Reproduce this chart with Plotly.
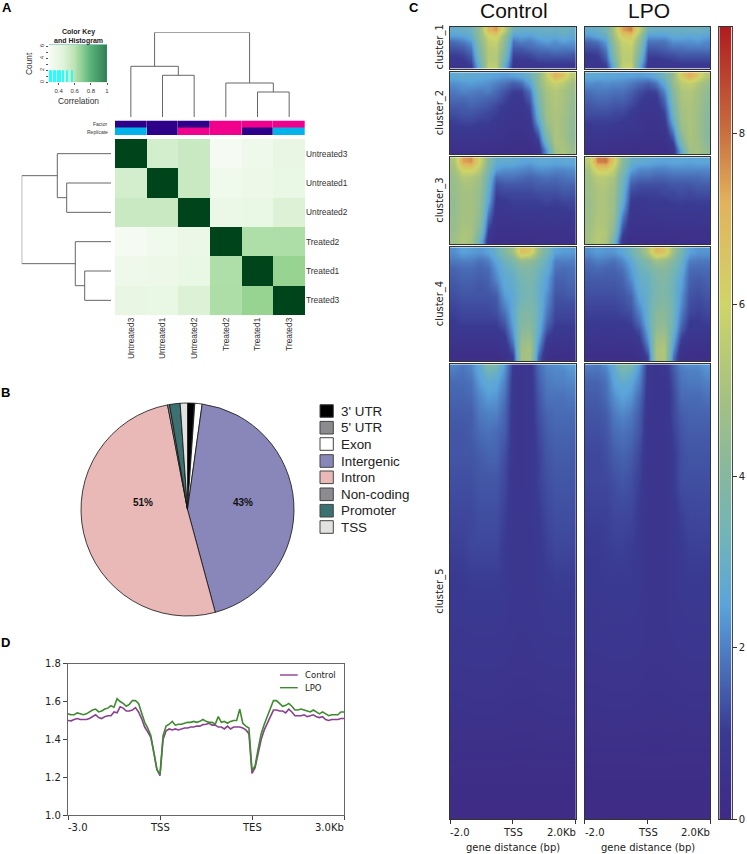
import plotly.graph_objects as go

W, H = 747, 854
SANS = "Liberation Sans"
DV = "DejaVu Sans"

# ---------- panel A data ----------
samples_cols = ["Untreated3", "Untreated1", "Untreated2", "Treated2", "Treated1", "Treated3"]
samples_rows = ["Untreated3", "Untreated1", "Untreated2", "Treated2", "Treated1", "Treated3"]
correlation = [
    [1.00, 0.416, 0.449, 0.28, 0.314, 0.343],
    [0.416, 1.00, 0.45, 0.31, 0.32, 0.34],
    [0.449, 0.45, 1.00, 0.33, 0.34, 0.39],
    [0.28, 0.31, 0.33, 1.00, 0.51, 0.515],
    [0.314, 0.32, 0.34, 0.51, 1.00, 0.565],
    [0.343, 0.34, 0.39, 0.515, 0.565, 1.00],
]
annotation_rows = ["Factor", "Replicate"]
annotation_codes = [[0, 0, 0, 1, 1, 1], [2, 0, 1, 1, 0, 2]]
key_levels = [0.28, 0.35, 0.42, 0.49, 0.56, 0.63, 0.70, 0.77, 0.84, 0.91, 1.0]
hist_values = [0.292, 0.31, 0.342, 0.358, 0.396, 0.417, 0.458, 0.50, 0.562]
hist_counts = [2, 2, 2, 2, 2, 2, 2, 2, 2]
# dendrogram merges: left leaf pos, right leaf pos, height, child heights
top_merges = [
    (1.5, 2.5, 41.7, 0, 0), (0.5, 2.0, 50.7, 0, 41.7),
    (4.5, 5.5, 25.0, 0, 0), (3.5, 5.0, 34.0, 0, 25.0),
    (1.25, 4.25, 84.7, 50.7, 34.0),
]
left_merges = [
    (1.5, 2.5, 44.3, 0, 0), (0.5, 2.0, 53.7, 0, 44.3),
    (4.5, 5.5, 26.3, 0, 0), (3.5, 5.0, 35.7, 0, 26.3),
    (1.25, 4.25, 89.3, 53.7, 35.7),
]

# ---------- panel B data ----------
pie_labels = ["3' UTR", "5' UTR", "Exon", "Intergenic", "Intron", "Non-coding", "Promoter", "TSS"]
pie_values = [1.0, 0.1, 1.1, 43.6, 51.2, 0.3, 1.6, 1.1]
pie_colors = ["#000000", "#8c8c90", "#ffffff", "#8987b9", "#e9b9b8", "#8c8c90", "#3d7070", "#e2e2e0"]

# ---------- panel C data (rows top to bottom, columns -2 kb to +2 kb) ----------
ctrl_c1 = [
    [2.9,3.0,3.2,4.5,7.0,7.5,5.5,3.2,3.0,3.0,3.0,3.1,3.0,3.2,3.0],
    [2.4,2.5,2.9,4.4,5.9,6.3,4.6,2.4,2.5,2.4,2.7,2.8,2.7,2.9,2.7],
    [1.7,1.9,2.3,4.1,5.6,5.8,4.2,1.8,2.0,1.9,2.2,2.4,2.2,2.4,2.3],
    [1.4,1.5,1.9,3.9,5.4,5.5,4.0,1.5,1.5,1.7,1.8,1.9,2.0,1.9,2.0],
    [1.1,1.2,1.6,3.7,5.3,5.4,3.7,1.2,1.2,1.3,1.5,1.5,1.6,1.6,1.5],
    [0.9,1.0,1.3,3.4,5.3,5.3,3.3,1.0,1.0,1.0,1.2,1.2,1.2,1.2,1.2],
    [0.7,0.7,1.0,3.0,5.5,5.6,2.8,0.8,0.7,0.8,0.8,0.9,0.9,0.9,0.9],
]
ctrl_c2 = [
    [2.7,2.8,2.7,2.7,2.6,2.5,2.4,2.5,2.7,3.1,4.2,5.7,7.2,6.6,5.5],
    [2.2,2.3,2.4,2.3,2.2,2.0,1.8,1.5,1.7,2.5,4.2,5.3,5.8,5.4,4.8],
    [1.9,2.1,2.0,1.9,2.0,1.7,1.4,1.1,1.1,1.8,3.8,5.0,5.3,5.0,4.6],
    [1.7,1.7,1.8,1.7,1.6,1.5,1.2,0.9,0.9,1.5,3.6,4.9,5.2,5.0,4.5],
    [1.5,1.5,1.6,1.5,1.4,1.2,1.0,0.8,0.8,1.2,3.3,4.8,5.2,4.9,4.4],
    [1.3,1.4,1.4,1.3,1.2,1.1,0.9,0.7,0.7,1.0,3.0,4.8,5.1,4.9,4.4],
    [1.1,1.2,1.2,1.1,1.1,0.9,0.8,0.7,0.7,0.8,2.6,4.6,5.1,4.8,4.3],
    [1.0,1.0,1.0,0.9,0.9,0.8,0.7,0.6,0.6,0.7,2.0,4.3,5.1,4.8,4.3],
    [0.8,0.8,0.8,0.8,0.7,0.7,0.6,0.5,0.5,0.6,1.4,3.8,5.1,4.8,4.2],
    [0.6,0.6,0.6,0.6,0.5,0.5,0.5,0.4,0.4,0.4,0.9,3.2,5.1,5.0,4.4],
    [0.4,0.4,0.4,0.4,0.4,0.4,0.3,0.3,0.3,0.3,0.5,2.3,4.8,5.1,4.6],
]
ctrl_c3 = [
    [5.1,7.4,7.6,6.0,4.0,2.9,2.8,2.8,2.6,2.5,2.7,2.7,2.6,2.7,2.7],
    [4.8,6.1,6.2,5.4,3.6,2.4,2.2,2.2,2.1,2.0,2.2,2.2,2.1,2.1,2.2],
    [4.6,5.3,5.2,4.8,3.2,1.7,1.8,1.8,1.7,1.6,1.7,1.8,1.7,1.8,1.9],
    [4.5,5.0,5.0,4.6,3.0,1.3,1.4,1.4,1.4,1.4,1.5,1.5,1.5,1.6,1.6],
    [4.5,4.9,4.9,4.5,2.8,1.1,1.2,1.2,1.2,1.2,1.3,1.3,1.3,1.4,1.4],
    [4.4,4.9,4.9,4.4,2.6,0.9,1.0,1.1,1.1,1.1,1.1,1.2,1.1,1.2,1.2],
    [4.4,4.9,4.9,4.4,2.2,0.8,0.9,1.0,1.0,1.0,1.0,1.0,1.0,1.0,1.1],
    [4.5,4.9,4.9,4.3,1.8,0.7,0.7,0.8,0.8,0.8,0.8,0.9,0.8,0.9,0.9],
    [4.5,5.0,4.9,4.1,1.4,0.6,0.6,0.6,0.6,0.7,0.7,0.7,0.7,0.7,0.7],
    [4.6,5.1,5.0,3.8,1.0,0.5,0.5,0.5,0.5,0.5,0.5,0.5,0.5,0.5,0.6],
    [4.7,5.2,4.9,3.2,0.6,0.3,0.3,0.3,0.3,0.3,0.4,0.4,0.4,0.4,0.4],
]
ctrl_c4 = [
    [2.2,2.5,2.4,2.3,2.5,3.0,3.9,4.8,6.8,6.5,4.6,3.5,2.5,2.4,2.4],
    [1.9,2.0,2.0,1.8,2.0,2.6,3.2,3.7,4.6,4.4,3.8,3.0,2.0,2.0,2.0],
    [1.6,1.7,1.7,1.6,1.7,2.3,2.9,3.2,3.8,3.9,3.3,2.8,1.8,1.7,1.8],
    [1.5,1.6,1.6,1.5,1.6,2.1,2.7,2.9,3.5,3.7,3.1,2.5,1.6,1.6,1.7],
    [1.4,1.5,1.5,1.4,1.5,1.8,2.6,2.8,3.3,3.6,3.0,2.4,1.5,1.5,1.6],
    [1.3,1.4,1.4,1.4,1.4,1.5,2.4,2.7,3.3,3.6,3.0,2.2,1.4,1.4,1.5],
    [1.2,1.3,1.3,1.3,1.3,1.4,2.1,2.7,3.5,3.7,3.1,2.1,1.3,1.3,1.3],
    [1.1,1.2,1.2,1.2,1.2,1.3,1.8,2.7,3.8,3.9,3.1,1.9,1.2,1.2,1.2],
    [1.0,1.1,1.1,1.1,1.1,1.1,1.5,2.6,3.9,4.0,3.0,1.7,1.1,1.1,1.1],
    [0.8,0.9,0.9,0.9,0.9,0.9,1.2,2.4,4.1,4.3,2.9,1.4,0.9,0.9,0.9],
    [0.7,0.7,0.7,0.7,0.7,0.7,0.9,2.1,4.4,4.6,2.6,1.0,0.7,0.8,0.7],
    [0.5,0.5,0.5,0.5,0.5,0.5,0.7,1.6,4.7,5.0,2.2,0.7,0.5,0.6,0.5],
    [0.3,0.3,0.3,0.3,0.3,0.3,0.4,1.1,4.8,5.0,1.7,0.4,0.3,0.3,0.3],
]
c5_row_percent = [0, 1.5, 4, 7, 11, 15, 20, 26, 33, 40, 47, 54, 62, 70, 78, 85, 92, 100]
ctrl_c5 = [
    [2.1,1.9,2.1,2.7,3.9,3.7,2.4,0.9,0.7,0.8,1.7,2.1,2.2,2.3,2.5],
    [1.9,1.8,2.0,2.6,3.3,3.1,2.2,0.9,0.7,0.8,1.6,2.0,2.1,2.1,2.3],
    [1.7,1.7,1.8,2.4,2.7,2.6,2.0,0.8,0.7,0.8,1.5,1.9,2.0,2.0,2.1],
    [1.6,1.6,1.7,2.1,2.4,2.3,1.8,0.8,0.7,0.8,1.4,1.8,1.8,1.8,1.9],
    [1.5,1.5,1.5,1.9,2.0,2.0,1.6,0.8,0.7,0.8,1.3,1.6,1.7,1.7,1.7],
    [1.4,1.4,1.5,1.7,1.8,1.7,1.5,0.8,0.7,0.8,1.2,1.5,1.6,1.6,1.6],
    [1.4,1.4,1.4,1.5,1.6,1.6,1.3,0.8,0.7,0.8,1.1,1.4,1.5,1.5,1.5],
    [1.3,1.3,1.3,1.4,1.4,1.4,1.2,0.8,0.7,0.8,1.1,1.3,1.4,1.4,1.4],
    [1.2,1.2,1.2,1.3,1.3,1.3,1.1,0.8,0.8,0.8,1.0,1.2,1.3,1.3,1.3],
    [1.1,1.1,1.2,1.2,1.2,1.2,1.0,0.8,0.8,0.8,0.9,1.1,1.2,1.2,1.2],
    [1.0,1.0,1.05,1.05,1.05,1.05,1.0,0.8,0.8,0.8,0.9,1.0,1.05,1.05,1.05],
    [0.9,0.9,0.95,0.95,0.95,0.95,0.9,0.8,0.75,0.8,0.85,0.9,0.95,0.95,0.95],
    [0.8,0.8,0.82,0.82,0.82,0.82,0.8,0.72,0.7,0.72,0.78,0.8,0.82,0.82,0.82],
    [0.65,0.65,0.68,0.68,0.68,0.68,0.65,0.6,0.6,0.6,0.65,0.65,0.68,0.68,0.68],
    [0.5,0.5,0.52,0.52,0.52,0.52,0.5,0.46,0.46,0.46,0.5,0.5,0.52,0.52,0.52],
    [0.35,0.35,0.35,0.35,0.35,0.35,0.35,0.33,0.33,0.33,0.35,0.35,0.35,0.35,0.35],
    [0.22,0.22,0.22,0.22,0.22,0.22,0.22,0.22,0.22,0.22,0.22,0.22,0.22,0.22,0.22],
    [0.1,0.1,0.1,0.1,0.1,0.1,0.1,0.1,0.1,0.1,0.1,0.1,0.1,0.1,0.1],
]
lpo_c1 = [
    [2.9,3.0,3.4,5.0,7.4,7.8,5.6,3.2,3.0,3.0,3.1,3.0,3.1,3.1,3.0],
    [2.3,2.6,3.0,4.8,6.4,6.6,4.8,2.4,2.4,2.4,2.7,2.7,2.6,2.7,2.5],
    [1.6,1.8,2.4,4.4,5.8,6.0,4.3,1.8,1.8,1.8,2.2,2.2,2.2,2.3,2.1],
    [1.3,1.4,2.0,4.1,5.6,5.7,4.0,1.5,1.5,1.6,1.8,1.8,1.9,1.9,1.9],
    [1.0,1.1,1.7,3.9,5.5,5.6,3.7,1.2,1.2,1.3,1.4,1.5,1.5,1.5,1.5],
    [0.8,0.9,1.4,3.5,5.5,5.5,3.3,1.0,0.9,1.0,1.1,1.2,1.2,1.2,1.2],
    [0.7,0.7,1.0,3.0,5.7,5.8,2.8,0.8,0.7,0.8,0.8,0.9,0.9,0.9,0.9],
]
lpo_c2 = [
    [2.7,2.7,2.6,2.6,2.5,2.5,2.4,2.5,2.8,3.4,4.5,6.2,7.3,6.4,5.3],
    [2.2,2.1,2.2,2.1,2.1,1.9,1.7,1.5,1.8,2.7,4.4,5.4,5.7,5.2,4.6],
    [1.8,1.9,1.9,1.8,1.8,1.6,1.3,1.1,1.2,2.1,4.0,5.1,5.3,4.9,4.4],
    [1.6,1.7,1.7,1.6,1.6,1.4,1.1,0.9,0.9,1.7,3.8,5.0,5.2,4.8,4.3],
    [1.4,1.5,1.5,1.4,1.4,1.2,1.0,0.8,0.8,1.4,3.5,4.9,5.1,4.8,4.2],
    [1.3,1.3,1.3,1.2,1.2,1.0,0.8,0.7,0.7,1.1,3.2,4.8,5.1,4.7,4.2],
    [1.1,1.1,1.1,1.1,1.0,0.9,0.7,0.6,0.6,0.9,2.8,4.7,5.1,4.7,4.1],
    [0.9,1.0,1.0,0.9,0.8,0.8,0.7,0.6,0.6,0.7,2.2,4.5,5.1,4.7,4.1],
    [0.8,0.8,0.8,0.7,0.7,0.6,0.6,0.5,0.5,0.6,1.6,4.1,5.1,4.7,4.1],
    [0.6,0.6,0.6,0.5,0.5,0.5,0.4,0.4,0.4,0.4,1.0,3.5,5.0,4.8,4.2],
    [0.4,0.4,0.4,0.4,0.3,0.3,0.3,0.3,0.3,0.3,0.6,2.6,4.8,4.9,4.4],
]
lpo_c3 = [
    [5.5,7.8,7.9,6.4,4.2,3.0,2.8,2.7,2.6,2.5,2.6,2.6,2.5,2.6,2.6],
    [5.0,6.3,6.4,5.6,3.8,2.5,2.1,2.1,2.0,2.0,2.1,2.1,2.1,2.1,2.1],
    [4.8,5.4,5.4,5.0,3.4,1.9,1.7,1.7,1.6,1.6,1.7,1.7,1.7,1.7,1.8],
    [4.7,5.2,5.2,4.8,3.2,1.5,1.3,1.3,1.3,1.3,1.4,1.4,1.4,1.5,1.5],
    [4.7,5.1,5.1,4.7,3.0,1.2,1.1,1.1,1.1,1.2,1.2,1.3,1.2,1.3,1.3],
    [4.6,5.1,5.1,4.6,2.8,1.0,0.9,1.0,1.0,1.0,1.1,1.1,1.1,1.1,1.1],
    [4.6,5.1,5.1,4.6,2.5,0.8,0.8,0.9,0.9,0.9,0.9,1.0,0.9,1.0,1.0],
    [4.7,5.1,5.1,4.5,2.0,0.7,0.7,0.7,0.8,0.8,0.8,0.8,0.8,0.8,0.9],
    [4.7,5.2,5.1,4.3,1.6,0.6,0.6,0.6,0.6,0.6,0.7,0.7,0.7,0.7,0.7],
    [4.8,5.3,5.2,4.0,1.2,0.5,0.5,0.5,0.5,0.5,0.5,0.5,0.5,0.5,0.5],
    [4.9,5.4,5.1,3.4,0.7,0.3,0.3,0.3,0.3,0.3,0.3,0.4,0.4,0.4,0.4],
]
lpo_c4 = [
    [2.2,2.4,2.3,2.3,2.6,3.2,4.1,5.2,7.0,6.6,4.8,3.5,2.5,2.3,2.3],
    [1.8,2.0,1.9,1.8,2.1,2.7,3.4,4.0,4.8,4.6,4.0,3.1,2.0,1.9,1.9],
    [1.6,1.7,1.6,1.6,1.8,2.4,3.1,3.4,4.0,4.1,3.5,2.9,1.7,1.7,1.7],
    [1.5,1.5,1.5,1.5,1.6,2.2,2.9,3.1,3.7,3.9,3.3,2.6,1.6,1.5,1.6],
    [1.4,1.4,1.4,1.4,1.5,1.9,2.8,3.0,3.6,3.8,3.2,2.5,1.5,1.4,1.5],
    [1.3,1.3,1.3,1.3,1.4,1.6,2.6,3.0,3.6,3.9,3.2,2.3,1.4,1.3,1.4],
    [1.2,1.2,1.2,1.2,1.3,1.5,2.3,3.0,3.8,4.0,3.3,2.2,1.3,1.2,1.3],
    [1.1,1.1,1.1,1.1,1.2,1.3,2.0,3.0,4.1,4.2,3.3,2.0,1.2,1.1,1.2],
    [1.0,1.0,1.0,1.0,1.0,1.1,1.7,2.9,4.2,4.3,3.2,1.8,1.0,1.0,1.1],
    [0.8,0.9,0.8,0.8,0.9,0.9,1.3,2.6,4.4,4.6,3.1,1.5,0.9,0.9,0.9],
    [0.7,0.7,0.7,0.7,0.7,0.7,1.0,2.3,4.7,4.9,2.8,1.1,0.7,0.7,0.7],
    [0.5,0.5,0.5,0.5,0.5,0.5,0.7,1.8,5.0,5.2,2.4,0.7,0.5,0.5,0.5],
    [0.3,0.3,0.3,0.3,0.3,0.3,0.4,1.2,5.0,5.2,1.9,0.4,0.3,0.3,0.3],
]
lpo_c5 = [
    [2.0,1.9,2.2,2.9,4.0,3.7,2.4,0.8,0.7,0.8,1.5,2.1,2.2,2.2,2.4],
    [1.8,1.8,2.0,2.7,3.4,3.1,2.2,0.8,0.7,0.8,1.4,1.9,2.0,2.0,2.2],
    [1.6,1.6,1.8,2.5,2.8,2.6,2.0,0.8,0.7,0.7,1.3,1.8,1.9,1.9,2.0],
    [1.5,1.5,1.7,2.2,2.5,2.3,1.7,0.8,0.7,0.7,1.2,1.7,1.7,1.7,1.8],
    [1.4,1.4,1.5,1.9,2.1,1.9,1.5,0.7,0.7,0.7,1.2,1.5,1.6,1.6,1.6],
    [1.3,1.3,1.4,1.7,1.8,1.7,1.4,0.7,0.7,0.7,1.1,1.4,1.5,1.5,1.5],
    [1.2,1.2,1.3,1.5,1.6,1.5,1.2,0.7,0.7,0.7,1.0,1.3,1.4,1.4,1.4],
    [1.2,1.2,1.2,1.3,1.4,1.3,1.1,0.7,0.7,0.7,1.0,1.3,1.3,1.3,1.3],
    [1.1,1.1,1.1,1.2,1.2,1.2,1.0,0.7,0.7,0.7,0.9,1.1,1.2,1.2,1.2],
    [1.0,1.0,1.05,1.1,1.1,1.05,0.95,0.7,0.7,0.7,0.85,1.0,1.1,1.1,1.1],
    [0.95,0.95,1.0,1.0,1.0,1.0,0.9,0.7,0.7,0.7,0.8,0.95,1.0,1.0,1.0],
    [0.85,0.85,0.9,0.9,0.9,0.9,0.85,0.72,0.7,0.72,0.8,0.85,0.9,0.9,0.9],
    [0.75,0.75,0.78,0.78,0.78,0.78,0.75,0.68,0.66,0.68,0.72,0.75,0.78,0.78,0.78],
    [0.62,0.62,0.65,0.65,0.65,0.65,0.62,0.58,0.56,0.58,0.6,0.62,0.65,0.65,0.65],
    [0.48,0.48,0.5,0.5,0.5,0.5,0.48,0.45,0.45,0.45,0.48,0.48,0.5,0.5,0.5],
    [0.33,0.33,0.33,0.33,0.33,0.33,0.33,0.32,0.32,0.32,0.33,0.33,0.33,0.33,0.33],
    [0.2,0.2,0.2,0.2,0.2,0.2,0.2,0.2,0.2,0.2,0.2,0.2,0.2,0.2,0.2],
    [0.1,0.1,0.1,0.1,0.1,0.1,0.1,0.1,0.1,0.1,0.1,0.1,0.1,0.1,0.1],
]
cluster_names = ["cluster_1", "cluster_2", "cluster_3", "cluster_4", "cluster_5"]
signal_levels = [0.0, 1.0, 2.0, 2.5, 3.3, 4.0, 5.0, 6.0, 7.2, 8.0, 9.24]
signal_ticks = [0, 2, 4, 6, 8]
signal_scale = [
    [0.0, "#3f2a84"], [0.11, "#3a3a92"], [0.216, "#4f80c4"], [0.27, "#5ba4db"],
    [0.36, "#72b5b7"], [0.433, "#86b7a0"], [0.54, "#a8c27f"], [0.65, "#cfd568"],
    [0.78, "#e2b25c"], [0.866, "#c87040"], [1.0, "#b01c20"],
]

# ---------- panel D data ----------
control_profile = [
    1.500,1.498,1.505,1.510,1.505,1.505,1.505,1.510,1.520,1.530,1.515,1.510,1.520,1.525,1.525,1.545,
    1.540,1.572,1.565,1.550,1.550,1.555,1.568,1.545,1.510,1.465,1.440,1.410,1.330,1.240,1.208,1.400,
    1.445,1.455,1.450,1.455,1.450,1.455,1.460,1.460,1.465,1.465,1.470,1.470,1.478,1.480,1.485,1.475,
    1.475,1.465,1.465,1.455,1.470,1.455,1.465,1.465,1.465,1.460,1.450,1.430,1.220,1.250,1.330,1.400,
    1.450,1.490,1.520,1.555,1.555,1.550,1.550,1.540,1.560,1.545,1.525,1.525,1.525,1.530,1.520,1.525,
    1.530,1.520,1.515,1.520,1.505,1.500,1.505,1.505,1.505,1.510,1.510,
]
lpo_profile = [
    1.535,1.530,1.530,1.540,1.535,1.530,1.535,1.545,1.555,1.560,1.545,1.550,1.560,1.565,1.578,1.570,
    1.615,1.600,1.590,1.575,1.585,1.605,1.605,1.590,1.540,1.490,1.460,1.420,1.330,1.240,1.215,1.420,
    1.470,1.480,1.495,1.475,1.480,1.480,1.485,1.490,1.490,1.495,1.490,1.495,1.505,1.495,1.490,1.490,
    1.480,1.520,1.490,1.495,1.485,1.495,1.500,1.500,1.560,1.485,1.470,1.460,1.235,1.260,1.350,1.430,
    1.480,1.520,1.560,1.605,1.605,1.590,1.575,1.580,1.590,1.575,1.555,1.555,1.560,1.555,1.550,1.545,
    1.555,1.545,1.535,1.545,1.535,1.525,1.530,1.530,1.530,1.545,1.545,
]

# ---------- helpers ----------
fig = go.Figure()
layout = dict(template="none", width=W, height=H, margin=dict(l=0, r=0, t=0, b=0, pad=0), paper_bgcolor="white",
              plot_bgcolor="white", showlegend=False, autosize=False)
annotations, shapes = [], []
axis_count = [0]


def fx(p):
    return p / W


def fy(p):
    return 1 - p / H


def add_axes(x0, y0, x1, y1, xopts=None, yopts=None):
    axis_count[0] += 1
    n = axis_count[0]
    sfx = "" if n == 1 else str(n)
    base = dict(showgrid=False, zeroline=False, showticklabels=False, ticks="", automargin=False)
    xa = dict(base, domain=[fx(x0), fx(x1)], anchor=f"y{sfx}")
    ya = dict(base, domain=[fy(y1), fy(y0)], anchor=f"x{sfx}")
    xa.update(xopts or {})
    ya.update(yopts or {})
    layout[f"xaxis{sfx}"] = xa
    layout[f"yaxis{sfx}"] = ya
    return f"x{sfx}", f"y{sfx}"


def text(x, y, s, size=10, family=DV, color="#222222", anchor="center", angle=0, bold=False):
    # annotations carry a small inner padding, so side-anchored text is nudged back onto its anchor
    nudge = {"left": -2, "right": 2}.get(anchor, 0)
    annotations.append(dict(xref="paper", yref="paper", x=fx(x), y=fy(y), text=f"<b>{s}</b>" if bold else s,
                            showarrow=False, xanchor=anchor, yanchor="middle", textangle=angle, xshift=nudge,
                            font=dict(size=size, family=family, color=color)))


# ---------- panel letters ----------
text(7, 7, "A", 13, SANS, "#000", bold=True)
text(6, 392, "B", 13, SANS, "#000", bold=True)
text(414, 7, "C", 13, SANS, "#000", bold=True)
text(6, 642, "D", 13, SANS, "#000", bold=True)

# ---------- panel A ----------
greens = [[0, "#f7fcf5"], [0.125, "#e5f5e0"], [0.25, "#c7e9c0"], [0.375, "#a1d99b"], [0.5, "#74c476"],
          [0.625, "#41ab5d"], [0.75, "#238b45"], [0.875, "#006d2c"], [1, "#00441b"]]
x, y = add_axes(115, 139, 305, 315,
                dict(range=[-0.5, 5.5], tickmode="array", tickvals=list(range(6)), ticktext=samples_cols,
                     showticklabels=True, tickangle=-90, side="bottom",
                     tickfont=dict(size=8.4, family=SANS, color="#333")),
                dict(range=[5.5, -0.5], tickmode="array", tickvals=list(range(6)), ticktext=samples_rows,
                     showticklabels=True, side="right", tickfont=dict(size=8.4, family=SANS, color="#333")))
fig.add_trace(go.Heatmap(z=correlation, xaxis=x, yaxis=y, colorscale=greens, zmin=0.27, zmax=1, showscale=False))

x, y = add_axes(115, 120.5, 305, 135, dict(range=[-0.5, 5.5]), dict(range=[1.5, -0.5]))
fig.add_trace(go.Heatmap(z=annotation_codes, xaxis=x, yaxis=y, zmin=0, zmax=2, showscale=False, xgap=0.3,
                         colorscale=[[0, "#2e0089"], [0.499, "#2e0089"], [0.5, "#f0008c"], [0.749, "#f0008c"],
                                     [0.75, "#00b4eb"], [1, "#00b4eb"]]))
text(108, 124, annotation_rows[0], 5, SANS, "#333", "right")
text(108, 131.5, annotation_rows[1], 5, SANS, "#333", "right")

DENDRO = dict(mode="lines", line=dict(color="#666666", width=1), hoverinfo="skip")
x, y = add_axes(115, 32.3, 305, 117, dict(range=[0, 6]), dict(range=[0, 84.7]))
for a, b, h, ha, hb in top_merges:
    fig.add_trace(go.Scatter(x=[a, a, b, b], y=[ha, h, h, hb], xaxis=x, yaxis=y, cliponaxis=False, **DENDRO))
x, y = add_axes(21.7, 139, 111, 315, dict(range=[89.3, 0]), dict(range=[6, 0]))
for a, b, h, ha, hb in left_merges:
    fig.add_trace(go.Scatter(x=[ha, h, h, hb], y=[a, a, b, b], xaxis=x, yaxis=y, cliponaxis=False, **DENDRO))

# color key
x, y = add_axes(49, 44.5, 107, 82.3,
                dict(range=[0.28, 1.0], tickmode="array", tickvals=[0.4, 0.6, 0.8, 1.0], ticktext=["0.4", "0.6", "0.8", "1"],
                     showticklabels=True, ticks="outside", ticklen=2, tickwidth=0.7, tickcolor="#555",
                     tickfont=dict(size=6, family=SANS, color="#333")),
                dict(range=[0, 6.3], tickmode="array", tickvals=[0, 1, 2, 3, 4, 5, 6], ticktext=["0", "", "2", "", "4", "", "6"],
                     showticklabels=True, ticks="outside", ticklen=2, tickwidth=0.7, tickcolor="#555", tickangle=-90,
                     tickfont=dict(size=5.5, family=SANS, color="#333")))
fig.add_trace(go.Heatmap(z=[key_levels], x=key_levels, y=[0, 6.3], xaxis=x, yaxis=y, showscale=False, zsmooth="best",
                         zmin=0.28, zmax=1,
                         colorscale=[[0, "#f7fcf5"], [0.25, "#dff2d8"], [0.45, "#b6e0ac"], [0.7, "#5cb67c"], [1, "#2e7a4f"]]))
fig.add_trace(go.Bar(x=hist_values, y=hist_counts, width=0.012, xaxis=x, yaxis=y,
                     marker=dict(color="#22ffff", line=dict(width=0)), hoverinfo="skip"))
fig.add_trace(go.Scatter(x=[0.28, 1, 1], y=[6.3, 6.3, 0], xaxis=x, yaxis=y, mode="lines", cliponaxis=False,
                         line=dict(color="#1f9a96", width=0.8), hoverinfo="skip"))
text(78, 32, "Color Key", 7, SANS, "#222", bold=True)
text(78, 41, "and Histogram", 7, SANS, "#222", bold=True)
text(29, 63, "Count", 8.4, SANS, "#333", angle=-90)
text(78, 101, "Correlation", 8.4, SANS, "#333")

# ---------- panel B ----------
fig.add_trace(go.Pie(labels=pie_labels, values=pie_values, sort=False, direction="clockwise", rotation=0,
                     marker=dict(colors=pie_colors, line=dict(color="#111111", width=0.8)),
                     textinfo="none", domain=dict(x=[fx(81), fx(294)], y=[fy(616), fy(403)]), hoverinfo="label+percent"))
text(143, 502, "51%", 10, SANS, "#111", bold=True)
text(243, 502, "43%", 10, SANS, "#111", bold=True)
legend_rows = [411, 427.7, 444, 461, 477.3, 494.3, 510.7, 527]
for lab, col, ly in zip(pie_labels, pie_colors, legend_rows):
    shapes.append(dict(type="rect", xref="paper", yref="paper", x0=fx(320), x1=fx(333.3), y0=fy(ly + 6.3), y1=fy(ly - 6.3),
                       fillcolor=col, line=dict(color="#444444", width=1)))
    text(341, ly, lab, 13.4, SANS, "#222", "left")

# ---------- panel C ----------
cluster_boxes = [(26.7, 68.5), (72.3, 154), (157.3, 244.3), (247.3, 361), (364.3, 819.3)]
panels = [("Control", 450, 575.7, [ctrl_c1, ctrl_c2, ctrl_c3, ctrl_c4, ctrl_c5]),
          ("LPO", 584.7, 710.3, [lpo_c1, lpo_c2, lpo_c3, lpo_c4, lpo_c5])]
frame = dict(showline=True, mirror=True, linecolor="#333333", linewidth=1)
for pname, px0, px1, mats in panels:
    text((px0 + px1) / 2 + 1.5, 10, pname, 21, SANS, "#111")
    for k, ((py0, py1), mat) in enumerate(zip(cluster_boxes, mats)):
        xo = dict(range=[-0.5, 14.5], **frame)
        if k == 4:
            xo.update(tickmode="array", tickvals=[-0.5, 7, 14.5], ticks="outside", ticklen=4, tickwidth=1, tickcolor="#333")
            x, y = add_axes(px0, py0, px1, py1, xo, dict(range=[100, 0], **frame))
            fig.add_trace(go.Heatmap(z=mat, y=c5_row_percent, xaxis=x, yaxis=y, coloraxis="coloraxis", zsmooth="best", hoverinfo="skip"))
        else:
            x, y = add_axes(px0, py0, px1, py1, xo, dict(range=[len(mat) - 0.5, -0.5], **frame))
            fig.add_trace(go.Heatmap(z=mat, xaxis=x, yaxis=y, coloraxis="coloraxis", zsmooth="best", hoverinfo="skip"))
    text(px0, 832, "-2.0", 10, DV, "#222", "left")
    text((px0 + px1) / 2, 832, "TSS", 10, DV, "#222")
    text(px1, 832, "2.0Kb", 10, DV, "#222", "right")
    text((px0 + px1) / 2, 847, "gene distance (bp)", 10, DV, "#222")
for nm, (py0, py1) in zip(cluster_names, cluster_boxes):
    text(440, (py0 + py1) / 2, nm, 10, DV, "#222", angle=-90)

layout["coloraxis"] = dict(cmin=0, cmax=9.24, colorscale=signal_scale, showscale=False)
# colour bar drawn as its own small heatmap so it cannot push the plot margins
x, y = add_axes(719.3, 26.7, 731.7, 819.3, dict(range=[0, 1], **frame),
                dict(range=[0, 9.24], side="right", tickmode="array", tickvals=signal_ticks,
                     ticktext=[str(t) for t in signal_ticks], showticklabels=True, ticks="outside", ticklen=4,
                     tickwidth=1, tickcolor="#333", tickfont=dict(size=10, family=DV, color="#222"),
                     showline=True, mirror=True, linecolor="#444444", linewidth=1))
fig.add_trace(go.Heatmap(z=[[v, v] for v in signal_levels], x=[0, 1], y=signal_levels, xaxis=x, yaxis=y,
                         coloraxis="coloraxis", zsmooth="best", hoverinfo="skip"))

# ---------- panel D ----------
axis_d = dict(showline=True, mirror=True, linecolor="#666666", linewidth=1.2, ticks="outside", ticklen=4, tickwidth=1,
              tickcolor="#444")
x, y = add_axes(68, 663.7, 344, 815,
                dict(range=[0, 90], tickmode="array", tickvals=[0, 30, 60, 90], showticklabels=False, **axis_d),
                dict(range=[1.0, 1.8], tickmode="array", tickvals=[1.0, 1.2, 1.4, 1.6, 1.8],
                     ticktext=["1.0", "1.2", "1.4", "1.6", "1.8"], showticklabels=True,
                     tickfont=dict(size=10, family=DV, color="#222"), **axis_d))
fig.add_trace(go.Scatter(y=control_profile, xaxis=x, yaxis=y, mode="lines", name="Control", line=dict(color="#8a3f8f", width=1.6)))
fig.add_trace(go.Scatter(y=lpo_profile, xaxis=x, yaxis=y, mode="lines", name="LPO", line=dict(color="#3f8a2f", width=1.6)))
text(68, 827, "-3.0", 10, DV, "#222", "left")
text(160, 827, "TSS", 10, DV, "#222")
text(252, 827, "TES", 10, DV, "#222")
text(344, 827, "3.0Kb", 10, DV, "#222", "right")
for nm, col, ly in [("Control", "#8a3f8f", 675), ("LPO", "#3f8a2f", 687.7)]:
    shapes.append(dict(type="line", xref="paper", yref="paper", x0=fx(280), x1=fx(297.7), y0=fy(ly), y1=fy(ly),
                       line=dict(color=col, width=1.4)))
    text(305, ly, nm, 8.5, DV, "#222", "left")

layout["annotations"] = annotations
layout["shapes"] = shapes
fig.update_layout(**layout)
fig.write_html("out.html", config=dict(displayModeBar=False), post_script="document.body.style.margin='0';")
